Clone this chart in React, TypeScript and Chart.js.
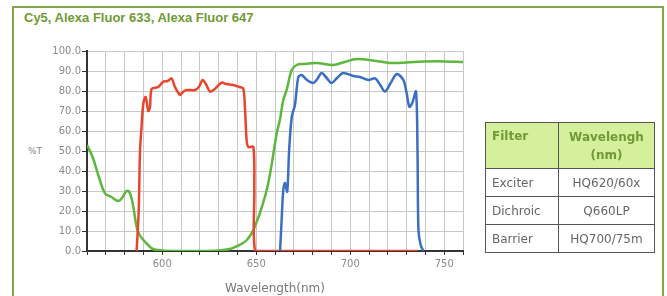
import React, { useEffect, useRef } from "react";
import { Chart, registerables } from "chart.js";

Chart.register(...registerables);

const dichroicWl = [560, 563, 566, 569.6, 573, 576.6, 579, 581, 582.5, 583.8, 585, 586.4, 588, 590, 592, 595, 600, 610, 620, 630, 636, 640, 643, 645, 647, 648.5, 650, 652, 655.6, 658, 660.9, 662.6, 664.4, 666.2, 668.9, 671.5, 675, 682.2, 691, 697, 703.4, 710, 721.2, 730, 738.9, 750, 760];
const dichroicT = [53, 47, 38, 28.8, 27, 25, 27, 30, 29.5, 26, 20, 12, 8, 5.5, 3.5, 1, 0.3, 0, 0, 0.3, 1, 2.5, 4, 5.5, 8, 10.5, 14, 19, 30.5, 42, 58.8, 65.5, 75.5, 80.5, 90.5, 93, 93.5, 94, 93, 94.5, 96, 95.5, 94, 94.2, 94.7, 94.8, 94.5];

const exciterWl = [586.4, 587.5, 588.2, 589, 590, 591.2, 592.6, 593.5, 594.4, 597.9, 600.6, 603, 605, 606.8, 609.5, 611, 613, 617.4, 619.5, 621.5, 623.5, 625.4, 628, 631.6, 634, 637.8, 641, 643.1, 644, 644.9, 645.8, 648.5, 649, 649.4, 655, 700, 736];
const exciterT = [0, 20, 50, 62, 74, 77, 70, 72, 81, 82, 84.7, 85, 86.3, 82, 78, 79.5, 80.5, 80.5, 82, 85.5, 83, 79.7, 81, 84.2, 83.5, 83, 82, 81.3, 72, 55.5, 52, 52, 30, 0, 0, 0, 0];

const barrierWl = [662.7, 663.5, 664.4, 665.3, 666.5, 667.5, 668.9, 670.6, 672.4, 674.2, 677, 680.4, 682.5, 684.8, 687.5, 690.1, 693, 696.3, 701.7, 705.2, 709.7, 713.2, 716, 718.5, 721.5, 724.8, 728.3, 730, 731.5, 733, 735, 735.8, 736.3, 737.5, 738.9];
const barrierT = [0, 15, 30.5, 34, 29.7, 50, 67, 73, 87, 88, 85.5, 84, 86, 89, 86.5, 84, 86.5, 89, 87.5, 87, 85.5, 86.3, 83, 79.7, 84, 88.5, 85.5, 79, 72, 74, 79.7, 50, 10.5, 3, 0];

const xTickLabels = [600, 650, 700, 750];
const filterRows = ["Exciter", "Dichroic", "Barrier"];
const wavelengthRows = ["HQ620/60x", "Q660LP", "HQ700/75m"];

const FONT = "'DejaVu Sans', sans-serif";

function toPoints(xs: number[], ys: number[]) {
  return xs.map((x, i) => ({ x, y: ys[i] }));
}

export default function App() {
  const ref = useRef<HTMLCanvasElement | null>(null);

  useEffect(() => {
    if (!ref.current) return;
    const chart = new Chart(ref.current, {
      type: "line",
      data: {
        datasets: [
          {
            label: "Barrier",
            data: toPoints(barrierWl, barrierT),
            borderColor: "#3a6fc4",
            borderWidth: 2.5,
            pointRadius: 0,
            tension: 0.3,
          },
          {
            label: "Exciter",
            data: toPoints(exciterWl, exciterT),
            borderColor: "#e8452e",
            borderWidth: 2.5,
            pointRadius: 0,
            tension: 0.3,
          },
          {
            label: "Dichroic",
            data: toPoints(dichroicWl, dichroicT),
            borderColor: "#5db73c",
            borderWidth: 2.5,
            pointRadius: 0,
            tension: 0.35,
          },
        ],
      },
      options: {
        animation: false,
        responsive: false,
        maintainAspectRatio: false,
        layout: { padding: { left: 0, top: 51, right: 27, bottom: 0 } },
        plugins: { legend: { display: false }, tooltip: { enabled: false } },
        scales: {
          x: {
            type: "linear",
            min: 560,
            max: 760,
            afterFit: (s: any) => {
              s.height = 45;
            },
            ticks: {
              stepSize: 10,
              autoSkip: false,
              maxRotation: 0,
              color: "#8a8a8a",
              font: { family: FONT, size: 10 },
              padding: 3,
              callback: (v: any) => (xTickLabels.includes(Number(v)) ? String(v) : ""),
            },
            grid: {
              color: "#c8c8c8",
              lineWidth: 1,
              tickColor: "#333",
              tickLength: 4,
              drawTicks: true,
            },
            border: { color: "#333", width: 2 },
            title: {
              display: true,
              text: "Wavelength(nm)",
              color: "#777",
              font: { family: FONT, size: 12 },
              padding: { top: 1, bottom: 0 },
            },
          },
          y: {
            min: 0,
            max: 100,
            afterFit: (s: any) => {
              s.width = 87;
            },
            ticks: {
              stepSize: 10,
              color: "#8a8a8a",
              font: { family: FONT, size: 10 },
              padding: 1,
              callback: (v: any) => Number(v).toFixed(1),
            },
            grid: {
              color: "#c8c8c8",
              lineWidth: 1,
              tickColor: "#333",
              tickLength: 5,
            },
            border: { color: "#333", width: 2 },
          },
        },
      },
    });
    return () => chart.destroy();
  }, []);

  const cell: React.CSSProperties = {
    border: "1px solid #555",
    padding: 0,
    fontFamily: FONT,
    fontSize: 12,
    color: "#666",
    height: 27,
    boxSizing: "border-box",
    lineHeight: "14px",
  };
  const head: React.CSSProperties = {
    ...cell,
    background: "#d5ef9c",
    color: "#6f9a34",
    fontWeight: "bold",
    height: 45,
  };

  return (
    <div style={{ position: "fixed", left: 0, top: 0, width: 667, height: 296, background: "#fff", overflow: "hidden" }}>
      <div style={{ position: "absolute", left: 12, top: 6, width: 648, height: 300, borderLeft: "2px solid #84a64a", borderTop: "2px solid #84a64a", borderRight: "2px solid #84a64a" }} />
      <div style={{ position: "absolute", left: 24, top: 10, fontFamily: "'Liberation Sans', Arial, sans-serif", fontWeight: "bold", fontSize: 13, color: "#6f9a34", whiteSpace: "nowrap" }}>
        Cy5, Alexa Fluor 633, Alexa Fluor 647
      </div>
      <div style={{ position: "absolute", left: 28, top: 146, fontFamily: FONT, fontSize: 9, color: "#888" }}>%T</div>
      <canvas ref={ref} width={490} height={296} style={{ position: "absolute", left: 0, top: 0, width: 490, height: 296 }} />
      <table style={{ position: "absolute", left: 485, top: 122, width: 169, borderCollapse: "collapse", tableLayout: "fixed" }}>
        <colgroup>
          <col style={{ width: 73 }} />
          <col style={{ width: 96 }} />
        </colgroup>
        <tbody>
          <tr style={{ height: 46 }}>
            <td style={{ ...head, paddingLeft: 6, verticalAlign: "top" }}>
              <div style={{ marginTop: 6 }}>Filter</div>
            </td>
            <td style={{ ...head, textAlign: "center", lineHeight: "18px" }}>Wavelengh<br />(nm)</td>
          </tr>
          {filterRows.map((f, i) => (
            <tr key={f} style={{ height: 28 }}>
              <td style={{ ...cell, paddingLeft: 6 }}>{f}</td>
              <td style={{ ...cell, textAlign: "center" }}>{wavelengthRows[i]}</td>
            </tr>
          ))}
        </tbody>
      </table>
    </div>
  );
}
